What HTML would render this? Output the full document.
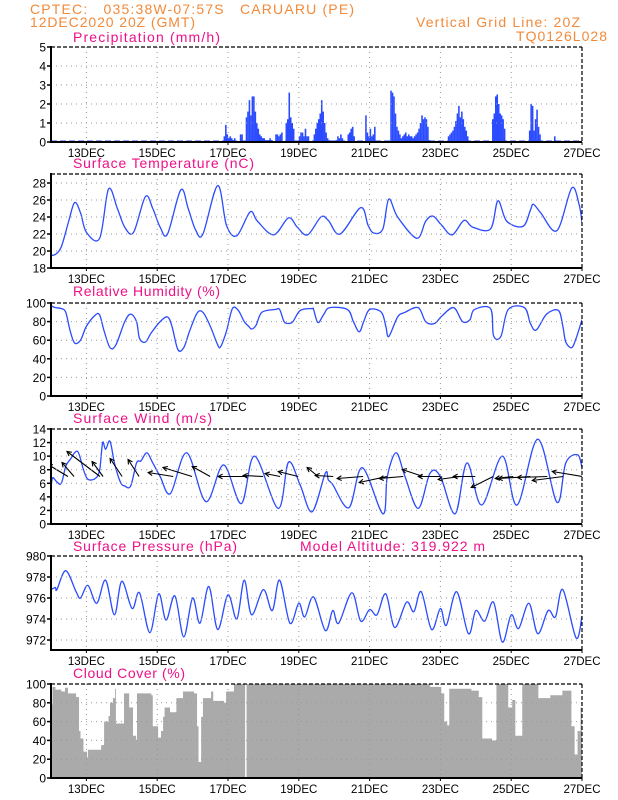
<!DOCTYPE html>
<html><head><meta charset="utf-8">
<style>
html,body{margin:0;padding:0;background:#fff;}
svg{display:block;}
text{font-family:"Liberation Sans",sans-serif;}
.hdr{fill:#f28a3a;font-size:14px;}
.ttl{fill:#ee1188;font-size:14px;}
.tick{fill:#000;font-size:12px;}
.date{fill:#000;font-size:11.5px;}
</style></head>
<body>
<svg id="chart" width="618" height="800" viewBox="0 0 618 800">
<text class="hdr" x="30" y="14" textLength="324" lengthAdjust="spacing" xml:space="preserve">CPTEC:   035:38W-07:57S   CARUARU (PE)</text>
<text class="hdr" x="30" y="27" textLength="165" lengthAdjust="spacing">12DEC2020 20Z (GMT)</text>
<text class="hdr" x="416" y="27" textLength="164" lengthAdjust="spacing">Vertical Grid Line: 20Z</text>
<text class="hdr" x="516" y="41" textLength="91" lengthAdjust="spacing">TQ0126L028</text>
<g id="layer"></g>
</svg>
<script>
// ---- data ----
const dateLabels = ["13DEC","15DEC","17DEC","19DEC","21DEC","23DEC","25DEC","27DEC"];
const dateHours = [24,72,120,168,216,264,312,360];

const precipStarts = [117,128,132,152,159,168,178,193,201,213,230,269,299,324,341];
const precipSegs = [
 [0.3,0.9,0.4,0.2,0.3,0.2,0.1,0.2],
 [0.4,0.4],
 [1.3,1.6,2.2,1.4,2.4,2.4,1.6,1.0,0.7,0.4,0.3,0.2,0.2,0.1,0.1,0.1,0.2,0.1],
 [0.4,0.4,0.3,0.4,0.5],
 [1.0,1.2,2.6,1.3,1.0,0.7],
 [0.3,0.5,0.5,0.3,0.7,0.3,0.3],
 [0.4,0.7,1.0,1.2,1.5,2.2,1.6,1.0,0.5,0.2,0.1],
 [0.1,0.3,0.2,0.4,0.2],
 [0.4,0.5,0.7,0.8,0.3],
 [1.4,0.5,0.3,0.7,0.3,0.4,0.8],
 [2.7,2.6,2.4,1.5,0.8,0.6,0.4,0.2,0.3,0.4,0.5,0.3,0.4,0.3,0.3,0.2,0.3,0.4,0.5,0.7,1.0,1.4,1.2,1.3,1.2,0.8,0.1,0.05,0.05],
 [0.3,0.4,0.5,0.6,0.8,1.1,1.5,1.9,1.3,1.6,1.2,0.8,0.6,0.3],
 [1.2,1.5,2.4,2.5,2.0,1.5,1.4,1.2,0.7],
 [0.6,2.0,1.9,0.6,1.2,1.7,0.8,0.4],
 [0.3]
];

const tempHours = [0,3,7,12,16,20,24,33,39,45,50,56,64,69,74,79,88,93,98,103,113,119,126,135,140,151,161,167,174,183,188,196,210,215,219,225,229,235,248,254,259,265,272,280,286,298,303,309,320,325,327,332,343,353,358,360];
const tempValues = [19.5,19.6,20.5,23.5,25.7,24.5,22.2,21.5,27.3,25,22.8,22.2,26.4,25,22.8,22,27.2,25,22.5,22,27.7,23,21.8,24.6,23.5,21.9,23.9,22.8,21.9,24,23.6,22,25.1,23,22.1,22.6,26.1,24,21.5,23.5,24.1,23,21.9,23.6,22.8,22.6,25.9,23.5,22.9,24.8,25.5,24.5,22.4,27.4,25.5,23.4];

const rhHours = [0,3,7,10,13,16,20,24,30,33,36,40,44,50,54,58,60,64,68,74,79,82,86,90,94,99,103,108,113,115,119,123,127,131,134,136,139,143,152,155,158,161,164,169,177,178,181,185,189,201,205,209,212,216,224,227,229,235,240,249,254,260,265,273,279,284,287,298,300,305,310,321,325,329,336,344,347,349,353,356,360];
const rhValues = [97,95,94,90,70,57,60,75,87,87,70,52,55,80,88,80,62,58,68,80,85,75,50,52,70,89,90,75,55,53,70,94,92,80,75,72,76,90,93,93,80,78,80,92,94,93,79,88,95,93,80,69,80,93,90,75,64,85,90,95,80,78,86,95,80,82,93,94,65,64,93,95,78,71,88,92,75,58,52,62,82];

const windHours = [0,1,4,7,10,13,18,22,25,30,33,35,37,40,43,47,50,54,58,61,65,69,74,81,92,105,117,129,138,154,161,169,177,186,188,191,202,211,225,228,234,240,249,257,264,274,282,292,306,316,330,343,349,357,360];
const windValues = [5,6.8,6.2,6,8.5,9.5,10.7,8,6.6,6.7,8,12,11,12.2,9,6.2,5.6,5.6,9,9.3,10.5,9,7,4.5,10.5,3.3,8.7,3,10,2.3,9.1,5.7,1.8,7.5,6.5,5.8,2.4,8.3,1.5,7,10.5,7,2.3,7.5,7,1.5,9,2.8,10,2.8,12.5,3.2,9,10.2,8.3];

const arrowHours = [11.5,15.6,33.2,35.3,48.2,59.7,82.8,95.6,107.9,133,143.8,155.3,167.6,181.1,191.3,211.6,227.9,238.8,252.3,263.9,277.4,287.6,299.8,313.4,324.9,336.5,347.3,360.2];
const arrowU = [-8,-4.8,-13.2,-4.4,-4.8,-4.4,-10,-11.6,-7.2,-11.6,-8,-6,-8,-4.4,-7.2,-10.4,-11.2,-9.6,-8.4,-8.8,-8.8,-8.8,-8.8,-7.2,-12.8,-12,-12.4,-12];
const arrowV = [4.8,5.6,10,6,7.2,6.8,1.6,3.6,4,0,0.4,1.2,2,3.6,0.4,-0.8,-2.4,-0.8,2.8,0,-1.2,0,-4.4,-0.8,-0.8,-0.4,-1.6,2];

const presHours = [0,3,4,10,17,20,25,31,37,43,48,55,60,67,73,78,84,90,96,101,107,113,120,126,131,136,144,150,155,162,168,172,178,186,191,195,204,210,216,221,227,233,241,246,251,258,264,268,275,283,288,294,300,306,312,317,324,330,337,342,347,356,360];
const presValues = [976.8,977,976.8,978.6,976.6,976,977.2,975.5,977.7,974.4,977.6,975,976.5,972.7,976.4,973.9,976.2,972.3,976,973.6,977.1,973,976.3,974,977.7,974.4,976.8,974.8,977.7,973.6,975.5,974.2,976.1,972.9,974.8,973.6,976.5,973.8,974.9,974.4,976.4,973.2,975.6,974.7,976.6,973,975,973.4,976.6,972.6,974.8,973.8,975.6,971.8,974.4,973.1,975.5,972.6,974.8,974.2,976.8,972.2,974.3];

const cloudHours = [0,1,3,7,9.5,11.5,17,19,20,22,24.4,25,34,36,39,40,42,43.4,44,49.5,53,55.6,57.7,58.3,64.5,68,69,72.6,74.6,76,77,80.7,85,89.5,97,99,100,101.8,103,108.5,110,117.4,118.7,124,131.6,132.6,257,264.6,266.6,268.6,270,285,290,292.4,299,302,310,312.7,314.8,319.5,330.4,338.5,346.7,352.8,355,357,359];
const cloudValues = [78,97,94,92,96,90,86,50,42,28,22,30,35,60,66,80,85,95,58,90,75,45,40,90,90,88,55,43,50,65,75,70,85,92,90,55,17,65,85,92,82,80,92,100,0,100,97,90,60,56,95,93,86,42,40,100,75,83,45,100,85,88,93,55,25,50,75];

// ---- layout ----
const X0 = 51, X1 = 582, HMAX = 360;
function xh(h){ return X0 + h*(X1-X0)/HMAX; }
const panels = {
  precip:{top:47,bot:142,min:0,max:5,ticks:[0,1,2,3,4,5],title:"Precipitation (mm/h)",tw:147,ty:42},
  temp:{top:174,bot:268,min:18,max:29.06,ticks:[18,20,22,24,26,28],title:"Surface Temperature (nC)",tw:181,ty:168},
  rh:{top:303,bot:396,min:0,max:100,ticks:[0,20,40,60,80,100],title:"Relative Humidity (%)",tw:147,ty:296},
  wind:{top:429,bot:524,min:0,max:14,ticks:[0,2,4,6,8,10,12,14],title:"Surface Wind (m/s)",tw:139,ty:423},
  pres:{top:556,bot:650,min:971.05,max:980,ticks:[972,974,976,978,980],title:"Surface Pressure (hPa)",tw:164,ty:551},
  cloud:{top:684,bot:778,min:0,max:100,ticks:[0,20,40,60,80,100],title:"Cloud Cover (%)",tw:112,ty:678}
};
function yv(p,v){ return p.bot - (v-p.min)*(p.bot-p.top)/(p.max-p.min); }

const NS="http://www.w3.org/2000/svg";
const layer=document.getElementById('layer');
function mk(tag,attrs,parent){const e=document.createElementNS(NS,tag);for(const k in attrs)e.setAttribute(k,attrs[k]);(parent||layer).appendChild(e);return e;}

function smoothPath(pts){
  let d="M"+pts[0][0].toFixed(2)+","+pts[0][1].toFixed(2);
  for(let i=0;i<pts.length-1;i++){
    const p0=pts[i-1]||pts[i],p1=pts[i],p2=pts[i+1],p3=pts[i+2]||p2;
    const c1x=p1[0]+(p2[0]-p0[0])/6,c1y=p1[1]+(p2[1]-p0[1])/6;
    const c2x=p2[0]-(p3[0]-p1[0])/6,c2y=p2[1]-(p3[1]-p1[1])/6;
    d+="C"+c1x.toFixed(2)+","+c1y.toFixed(2)+" "+c2x.toFixed(2)+","+c2y.toFixed(2)+" "+p2[0].toFixed(2)+","+p2[1].toFixed(2);
  }
  return d;
}

function frame(key){
  const p=panels[key];
  const g=mk('g',{});
  
  
  const t=mk('text',{x:73,y:p.ty,class:'ttl',textLength:p.tw,lengthAdjust:'spacing'},g); t.textContent=p.title;
  
  
  p.g=g;
  const cp=mk('clipPath',{id:'clip-'+key},g);
  mk('rect',{x:X0,y:p.top,width:X1-X0,height:p.bot-p.top},cp);
  p.data=mk('g',{'clip-path':'url(#clip-'+key+')'},g);
  return p;
}
function axes(key){
  const p=panels[key], g=p.g;
  p.ticks.forEach(v=>{
    const y=yv(p,v);
    if(v!==p.min && v!==p.max){
      const l=mk('line',{x1:X0,x2:X1,y1:y,y2:y,stroke:'#999','stroke-width':1,'stroke-dasharray':'1,4'},g);
      
      
    }
    mk('line',{x1:X0-4,x2:X0,y1:y,y2:y,stroke:'#000','stroke-width':1.5},g);
    const t=mk('text',{x:X0-5,y:y+4.5,class:'tick','text-anchor':'end'},g); t.textContent=String(v);
    
    
  });
  dateHours.forEach((h,i)=>{
    const x=xh(h);
    if(h<HMAX){
      const l=mk('line',{x1:x,x2:x,y1:p.top,y2:p.bot,stroke:'#999','stroke-width':1,'stroke-dasharray':'1,4'},g);
      
      
    }
    mk('line',{x1:x,x2:x,y1:p.bot,y2:p.bot+3,stroke:'#000','stroke-width':1},g);
    const t=mk('text',{x:x,y:p.bot+15,class:'date','text-anchor':'middle'},g); t.textContent=dateLabels[i];
    
    
  });
  mk('line',{x1:X0,x2:X1,y1:p.top,y2:p.top,stroke:'#000','stroke-width':1.2,'stroke-dasharray':'4,2'},g);
  mk('line',{x1:X1,x2:X1,y1:p.top,y2:p.bot,stroke:'#000','stroke-width':1.2,'stroke-dasharray':'4,2'},g);
  mk('line',{x1:X0,x2:X0,y1:p.top-1,y2:p.bot+1,stroke:'#000','stroke-width':2},g);
  mk('line',{x1:X0,x2:X1,y1:p.bot,y2:p.bot,stroke:'#000','stroke-width':2},g);
}
function lineSeries(key,hours,vals,name){
  const p=panels[key];
  const n=Math.min(hours.length,vals.length);
  const pts=[];
  for(let i=0;i<n;i++) pts.push([xh(hours[i]),yv(p,vals[i])]);
  const path=mk('path',{d:smoothPath(pts),fill:'none',stroke:'#2a4bff','stroke-width':1.3},p.data);
  
  
}

// precipitation
frame('precip');
{
  const p=panels.precip;
  const base=mk('line',{x1:X0,x2:X1,y1:p.bot-1,y2:p.bot-1,stroke:'#2a4bff','stroke-width':1,'stroke-dasharray':'6,3'},p.data);
  
  
  const w=(X1-X0)/HMAX;
  precipStarts.forEach((s,si)=>{
    (precipSegs[si]||[]).forEach((v,j)=>{
      const h=s+j, y=yv(p,v);
      const r=mk('rect',{x:xh(h),y:y,width:w+0.1,height:p.bot-y,fill:'#2a4bff'},p.data);
      
      
    });
  });
}
axes('precip');

frame('temp'); axes('temp'); lineSeries('temp',tempHours,tempValues,'temperature-line');
frame('rh'); axes('rh'); lineSeries('rh',rhHours,rhValues,'humidity-line');
frame('wind'); axes('wind'); lineSeries('wind',windHours,windValues,'wind-speed-line');
{
  const p=panels.wind, sc=2.5, y0=yv(p,7);
  const n=Math.min(arrowHours.length,arrowU.length,arrowV.length);
  for(let i=0;i<n;i++){
    const tx=xh(arrowHours[i]), hx=tx+arrowU[i]*sc, hy=y0-arrowV[i]*sc;
    const a=Math.atan2(y0-hy,tx-hx), L=5;
    const g=mk('g',{stroke:'#000','stroke-width':1.1,fill:'none'},p.data);
    
    
    mk('line',{x1:tx,y1:y0,x2:hx,y2:hy},g);
    mk('path',{d:`M${hx+L*Math.cos(a+0.5)},${hy+L*Math.sin(a+0.5)}L${hx},${hy}L${hx+L*Math.cos(a-0.5)},${hy+L*Math.sin(a-0.5)}`},g);
  }
}
frame('pres'); axes('pres'); lineSeries('pres',presHours,presValues,'pressure-line');
{
  const t=mk('text',{x:300,y:551,class:'ttl',textLength:185,lengthAdjust:'spacing'},panels.pres.g); t.textContent="Model Altitude: 319.922 m";
  
  
}
frame('cloud');
{
  const p=panels.cloud;
  const n=Math.min(cloudHours.length,cloudValues.length);
  let d="M"+xh(0)+","+p.bot;
  for(let i=0;i<n;i++){
    const x0=xh(cloudHours[i]), x1=xh(i+1<n?cloudHours[i+1]:HMAX), y=yv(p,cloudValues[i]);
    d+="L"+x0.toFixed(2)+","+y.toFixed(2)+"L"+x1.toFixed(2)+","+y.toFixed(2);
  }
  d+="L"+xh(HMAX)+","+p.bot+"Z";
  const a=mk('path',{d:d,fill:'#aaaaaa',stroke:'none'},p.data);
  
  
}
axes('cloud');
</script>
</body></html>
